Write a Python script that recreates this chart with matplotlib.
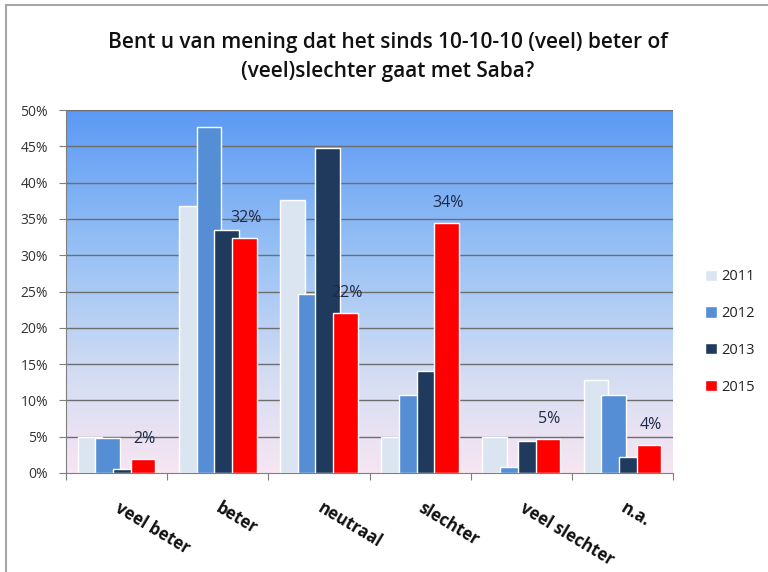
import matplotlib
matplotlib.use("Agg")
import matplotlib.pyplot as plt
import numpy as np
from matplotlib.colors import LinearSegmentedColormap
from matplotlib.patches import Rectangle

categories = ["veel beter", "beter", "neutraal", "slechter", "veel slechter", "n.a."]
years = ["2011", "2012", "2013", "2015"]
v2011 = [5.0, 36.8, 37.6, 4.9, 4.9, 12.8]
v2012 = [4.8, 47.6, 24.6, 10.8, 0.8, 10.8]
v2013 = [0.6, 33.5, 44.7, 14.1, 4.4, 2.2]
v2015 = [1.9, 32.4, 22.0, 34.4, 4.7, 3.9]
labels2015 = ["2%", "32%", "22%", "34%", "5%", "4%"]
yticks = [0, 5, 10, 15, 20, 25, 30, 35, 40, 45, 50]
title = "Bent u van mening dat het sinds 10-10-10 (veel) beter of\n(veel)slechter gaat met Saba?"

series = [v2011, v2012, v2013, v2015]
colors = ["#dbe5f1", "#558ed5", "#1f3a5c", "#ff0000"]

plt.rcParams['font.family'] = ['Open Sans', 'DejaVu Sans']

fig = plt.figure(figsize=(7.68, 5.72), dpi=100)
fig.patch.set_facecolor("white")
# outer frame (top/left visible)
fig.patches.append(Rectangle((6/768, -0.1), 1.2, 1 - 5/572 + 0.1, transform=fig.transFigure,
                             fill=False, edgecolor="#a6a6a6", lw=1.5))

ax = fig.add_axes([66/768, 1 - 473/572, (673 - 66)/768, (473 - 110)/572])
n = len(categories)
ax.set_xlim(0, n)
ax.set_ylim(0, 50)

cmap = LinearSegmentedColormap.from_list("bg", [
    (0.0, (0.97, 0.90, 0.95)),
    (0.25, (0.84, 0.87, 0.95)),
    (0.6, (0.60, 0.76, 0.96)),
    (1.0, (0.36, 0.60, 0.96)),
])
grad = np.linspace(0, 1, 256).reshape(-1, 1)
ax.imshow(grad, extent=[0, n, 0, 50], origin="lower", aspect="auto", cmap=cmap, zorder=0)

for y in yticks[1:]:
    ax.axhline(y, color="#6e6e6e", lw=1.0, zorder=1)

width = 0.243
step = 0.175
x = np.arange(n) + 0.5
offsets = (np.arange(4) - 1.5) * step
for i, (vals, col) in enumerate(zip(series, colors)):
    ax.bar(x + offsets[i], vals, width=width, color=col, edgecolor="white", linewidth=1.0,
           zorder=2 + i, label=years[i])

for xi, v, lab in zip(x + offsets[3], v2015, labels2015):
    ax.annotate(lab, (xi, v), xytext=(1, 14.5), textcoords="offset points", ha="center", va="center",
                fontsize=11.5, color="#1f2a44", zorder=10)

for s in ["top", "right"]:
    ax.spines[s].set_visible(False)
ax.spines["left"].set_color("#7f7f7f")
ax.spines["bottom"].set_color("#7f7f7f")
ax.spines["left"].set_zorder(12)
ax.spines["bottom"].set_zorder(12)

ax.set_yticks(yticks)
ax.set_yticklabels([f"{t}%" for t in yticks], fontsize=10, color="#333333")
ax.tick_params(axis="y", length=5, color="#7f7f7f", pad=8)
ax.set_xticks(np.arange(n + 1))
ax.set_xticklabels([])
ax.tick_params(axis="x", length=5, color="#7f7f7f")

for xi, c in zip(x, categories):
    ax.text(xi, -4.6, c, rotation=-31, rotation_mode="anchor", ha="left", va="center",
            fontsize=12, fontweight="bold", color="#111111", clip_on=False)

fig.text(388/768, 1 - 57/572, title, ha="center", va="center", fontsize=15,
         fontweight="semibold", color="#111111", linespacing=1.5)

handles = [Rectangle((0, 0), 1, 1, facecolor=c, edgecolor="white") for c in colors]
leg = fig.legend(handles, years, loc="center left", bbox_to_anchor=(692/768, 1 - 332/572),
                 frameon=False, fontsize=10.5, handlelength=0.8, handleheight=0.8,
                 handletextpad=0.3, labelspacing=1.5)
for t in leg.get_texts():
    t.set_color("#222222")

fig.savefig("out.png", dpi=100)
